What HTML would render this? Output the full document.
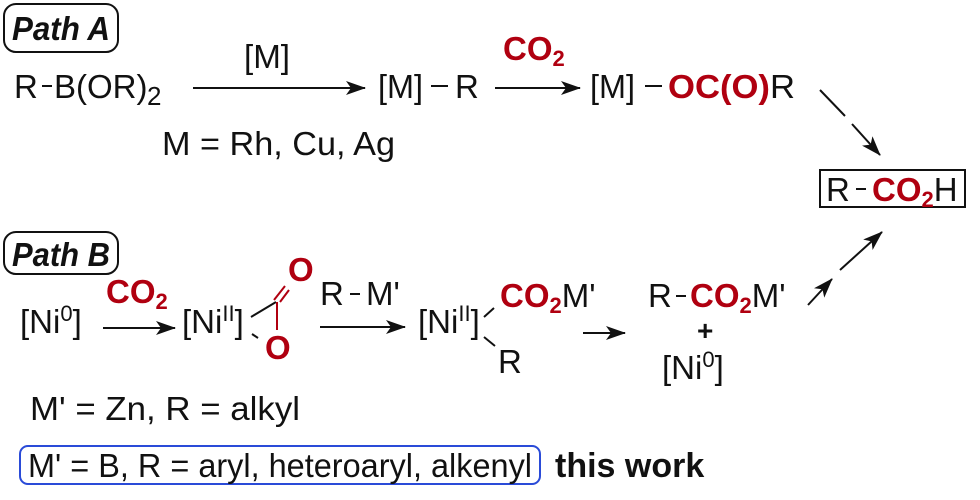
<!DOCTYPE html>
<html><head><meta charset="utf-8"><style>
html,body{margin:0;padding:0;background:#fff;}
svg{display:block;}
text{font-family:"Liberation Sans",Arial,sans-serif;font-size:33px;fill:#111;}
.r{fill:#b00010;font-weight:bold;}
.b{font-weight:bold;}
.s{font-size:22px;}
</style></head><body>
<svg width="980" height="500" viewBox="0 0 980 500" xmlns="http://www.w3.org/2000/svg">
<defs>
<marker id="ah" markerWidth="20" markerHeight="14" refX="19" refY="7" orient="auto" markerUnits="userSpaceOnUse" viewBox="0 0 20 14">
<path d="M0,0 L20,7 L0,14 L5,7 Z" fill="#111"/></marker>
</defs>
<!-- Path A -->
<rect x="4" y="4" width="114" height="48" rx="12" fill="none" stroke="#111" stroke-width="2"/>
<text x="12" y="40" class="b" style="font-style:italic" textLength="98" lengthAdjust="spacingAndGlyphs">Path A</text>
<text x="14" y="98">R</text><line x1="42" y1="86" x2="52" y2="86" stroke="#111" stroke-width="2"/>
<text x="54" y="98">B(OR)</text><text x="147" y="105" style="font-size:26px">2</text>
<text x="244" y="68" textLength="46" lengthAdjust="spacingAndGlyphs">[M]</text>
<line x1="193" y1="88" x2="365" y2="88" stroke="#111" stroke-width="2" marker-end="url(#ah)"/>
<text x="162" y="155" textLength="233" lengthAdjust="spacingAndGlyphs">M = Rh, Cu, Ag</text>
<text x="378" y="98" textLength="45" lengthAdjust="spacingAndGlyphs">[M]</text><line x1="431" y1="86" x2="448" y2="86" stroke="#111" stroke-width="2"/><text x="455" y="98">R</text>
<text x="503" y="60" class="r">CO<tspan dy="6" class="s">2</tspan></text>
<line x1="495" y1="88" x2="580" y2="88" stroke="#111" stroke-width="2" marker-end="url(#ah)"/>
<text x="590" y="98" textLength="45" lengthAdjust="spacingAndGlyphs">[M]</text><line x1="645" y1="86" x2="662" y2="86" stroke="#111" stroke-width="2"/>
<text x="668" y="98" textLength="127" lengthAdjust="spacingAndGlyphs"><tspan class="r">OC(O)</tspan>R</text>
<line x1="820" y1="90" x2="845" y2="116" stroke="#111" stroke-width="2"/>
<line x1="852" y1="124" x2="880" y2="155" stroke="#111" stroke-width="2" marker-end="url(#ah)"/>
<rect x="820" y="170" width="145" height="37" fill="none" stroke="#111" stroke-width="2"/>
<text x="826" y="201">R</text><line x1="856" y1="189" x2="866" y2="189" stroke="#111" stroke-width="2"/>
<text x="872" y="201"><tspan class="r">CO</tspan><tspan class="r s" dy="6">2</tspan><tspan dy="-6">H</tspan></text>
<!-- Path B -->
<rect x="4" y="232" width="114" height="42" rx="12" fill="none" stroke="#111" stroke-width="2"/>
<text x="12" y="266" class="b" style="font-style:italic" textLength="98" lengthAdjust="spacingAndGlyphs">Path B</text>
<text x="20" y="333">[Ni<tspan class="s" dy="-12">0</tspan><tspan dy="12">]</tspan></text>
<text x="106" y="303" class="r">CO<tspan dy="6" class="s">2</tspan></text>
<line x1="103" y1="328" x2="175" y2="328" stroke="#111" stroke-width="2" marker-end="url(#ah)"/>
<text x="182" y="333">[Ni<tspan class="s" dy="-12">II</tspan><tspan dy="12">]</tspan></text>
<line x1="251" y1="317" x2="276" y2="302" stroke="#111" stroke-width="2"/>
<line x1="277" y1="302" x2="277" y2="330" stroke="#b00010" stroke-width="2"/>
<line x1="274" y1="300" x2="285" y2="286" stroke="#b00010" stroke-width="2"/>
<line x1="280" y1="302" x2="289" y2="290" stroke="#b00010" stroke-width="2"/>
<line x1="252" y1="334" x2="258" y2="338" stroke="#111" stroke-width="2"/>
<text x="288" y="281" class="r">O</text>
<text x="265" y="359" class="r">O</text>
<text x="320" y="305">R</text><line x1="350" y1="294" x2="360" y2="294" stroke="#111" stroke-width="2"/><text x="366" y="305">M'</text>
<line x1="320" y1="327" x2="405" y2="327" stroke="#111" stroke-width="2" marker-end="url(#ah)"/>
<text x="418" y="333">[Ni<tspan class="s" dy="-12">II</tspan><tspan dy="12">]</tspan></text>
<line x1="484" y1="317" x2="494" y2="308" stroke="#111" stroke-width="2"/>
<line x1="484" y1="337" x2="495" y2="346" stroke="#111" stroke-width="2"/>
<text x="500" y="307"><tspan class="r">CO</tspan><tspan class="r s" dy="6">2</tspan><tspan dy="-6">M'</tspan></text>
<text x="498" y="373">R</text>
<line x1="583" y1="333" x2="625" y2="333" stroke="#111" stroke-width="2" marker-end="url(#ah)"/>
<text x="648" y="307">R</text><line x1="676" y1="296" x2="686" y2="296" stroke="#111" stroke-width="2"/>
<text x="690" y="307"><tspan class="r">CO</tspan><tspan class="r s" dy="6">2</tspan><tspan dy="-6">M'</tspan></text>
<text x="697" y="340" class="b" style="font-size:28px">+</text>
<text x="662" y="379">[Ni<tspan class="s" dy="-12">0</tspan><tspan dy="12">]</tspan></text>
<line x1="808" y1="305" x2="832" y2="279" stroke="#111" stroke-width="2" marker-end="url(#ah)"/>
<line x1="840" y1="270" x2="882" y2="232" stroke="#111" stroke-width="2" marker-end="url(#ah)"/>
<text x="30" y="420" textLength="270" lengthAdjust="spacingAndGlyphs">M' = Zn, R = alkyl</text>
<rect x="20" y="446" width="520" height="38" rx="8" fill="none" stroke="#2a4bd8" stroke-width="2"/>
<text x="28" y="477" textLength="504" lengthAdjust="spacingAndGlyphs">M' = B, R = aryl, heteroaryl, alkenyl</text>
<text x="555" y="477" class="b" style="font-size:34px">this work</text>
</svg>
</body></html>
